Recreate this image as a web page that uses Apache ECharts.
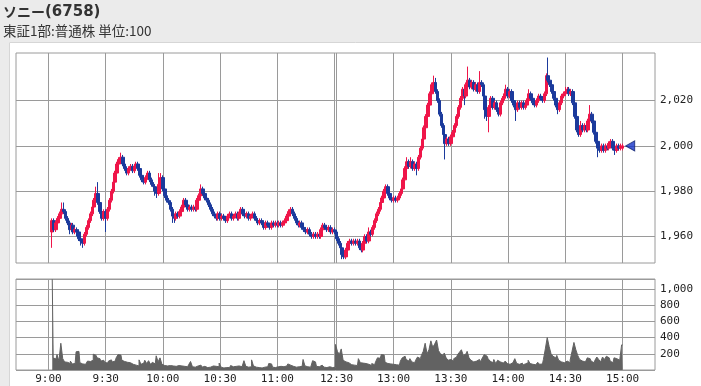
<!DOCTYPE html>
<html><head><meta charset="utf-8">
<script src="https://cdn.jsdelivr.net/npm/echarts@6/dist/echarts.min.js"></script>
<style>html,body{margin:0;padding:0;background:#fff;}#c{width:701px;height:386px;}</style>
</head><body><div id="c"></div>
<script>
// ---- data ----
const titleName = 'ソニー';
const titleCode = '(6758)';
const subTitle = '東証1部:普通株 単位:100';

const gridTimes = ['9:00','9:30','10:00','10:30','11:00','11:30','12:30','13:00','13:30','14:00','14:30','15:00'];
const labelTimes = ['9:00','9:30','10:00','10:30','11:00','12:30','13:00','13:30','14:00','14:30','15:00'];
const priceTicks = [1960, 1980, 2000, 2020];
const volumeTicks = [200, 400, 600, 800, 1000];
const markerTime = '15:04';

const amOpen = [1962,1967,1963,1966,1968,1970,1972,1971,1968,1966,
1963,1965,1962,1963,1962,1959,1958,1957,1961,1964,
1967,1970,1973,1976,1979,1975,1971,1968,1971,1968,
1972,1976,1980,1984,1988,1992,1994,1995,1992,1990,
1988,1990,1991,1989,1991,1992,1990,1987,1985,1984,
1986,1988,1985,1983,1982,1980,1979,1983,1986,1981,
1978,1976,1975,1972,1969,1968,1970,1969,1971,1973,
1976,1974,1972,1973,1972,1973,1972,1976,1978,1981,
1979,1977,1976,1974,1972,1970,1969,1968,1970,1968,
1969,1968,1967,1969,1970,1968,1969,1970,1968,1970,
1972,1970,1969,1970,1968,1969,1970,1968,1967,1966,
1967,1966,1964,1966,1965,1964,1966,1965,1966,1965,
1966,1965,1966,1967,1969,1971,1972,1970,1968,1966,
1965,1966,1964,1963,1962,1963,1961,1960,1961,1960,
1961,1960,1963,1965,1964,1963,1964,1962,1963];
const amClose = [1967,1963,1966,1968,1970,1972,1971,1968,1966,1963,
1965,1962,1963,1962,1959,1958,1957,1961,1964,1967,
1970,1973,1976,1979,1975,1971,1968,1971,1968,1972,
1976,1980,1984,1988,1992,1994,1995,1992,1990,1988,
1990,1991,1989,1991,1992,1990,1987,1985,1984,1986,
1988,1985,1983,1982,1980,1979,1983,1986,1981,1978,
1976,1975,1972,1969,1968,1970,1969,1971,1973,1976,
1974,1972,1973,1972,1973,1972,1976,1978,1981,1979,
1977,1976,1974,1972,1970,1969,1968,1970,1968,1969,
1968,1967,1969,1970,1968,1969,1970,1968,1970,1972,
1970,1969,1970,1968,1969,1970,1968,1967,1966,1967,
1966,1964,1966,1965,1964,1966,1965,1966,1965,1966,
1965,1966,1967,1969,1971,1972,1970,1968,1966,1965,
1966,1964,1963,1962,1963,1961,1960,1961,1960,1961,
1960,1963,1965,1964,1963,1964,1962,1963,1962];
const amLow = [1955,1962,1962,1965,1967,1969,1970,1967,1965,1961,
1962,1961,1961,1960,1958,1956,1955,1956,1960,1963,
1966,1969,1972,1975,1974,1970,1967,1967,1962,1967,
1971,1975,1979,1983,1987,1991,1993,1991,1989,1987,
1987,1989,1988,1988,1990,1989,1986,1984,1983,1983,
1985,1984,1982,1981,1978,1977,1978,1982,1980,1977,
1975,1974,1971,1966,1966,1967,1968,1968,1970,1972,
1973,1971,1971,1971,1971,1971,1971,1975,1977,1978,
1976,1975,1973,1971,1969,1968,1967,1967,1967,1967,
1967,1966,1966,1968,1967,1967,1968,1967,1967,1969,
1969,1968,1968,1967,1967,1968,1967,1966,1965,1965,
1965,1963,1963,1964,1963,1963,1964,1964,1964,1964,
1964,1964,1965,1966,1968,1970,1969,1967,1965,1964,
1964,1963,1962,1961,1961,1960,1959,1959,1959,1959,
1959,1959,1962,1963,1962,1962,1961,1961,1961];
const amHigh = [1968,1968,1967,1969,1971,1975,1975,1972,1969,1967,
1966,1966,1964,1964,1963,1960,1959,1962,1965,1968,
1971,1974,1977,1982,1984,1976,1972,1972,1972,1973,
1977,1981,1985,1989,1993,1995,1997,1996,1993,1991,
1991,1992,1992,1992,1993,1993,1991,1988,1986,1987,
1989,1989,1986,1984,1983,1981,1988,1988,1987,1982,
1979,1977,1976,1973,1970,1971,1971,1972,1974,1977,
1977,1975,1974,1974,1974,1974,1977,1979,1983,1982,
1980,1978,1977,1975,1973,1971,1970,1971,1971,1970,
1970,1969,1970,1971,1971,1970,1971,1971,1971,1973,
1973,1971,1971,1971,1970,1971,1971,1969,1968,1968,
1968,1967,1967,1967,1966,1967,1967,1967,1967,1967,
1967,1967,1968,1970,1972,1973,1973,1971,1969,1967,
1967,1967,1965,1964,1964,1964,1962,1962,1962,1962,
1962,1964,1966,1966,1965,1965,1965,1964,1964];

const pmOpen = [1962,1959,1957,1955,1952,1951,1954,1957,1958,1957,
1958,1957,1958,1955,1954,1957,1960,1958,1962,1961,
1964,1967,1970,1972,1975,1977,1980,1982,1979,1977,
1976,1977,1976,1977,1979,1981,1985,1990,1993,1991,
1993,1990,1992,1990,1995,1999,2003,2008,2013,2018,
2023,2027,2028,2024,2020,2014,2009,2005,2001,2003,
2001,2004,2006,2009,2013,2017,2021,2025,2022,2027,
2029,2026,2028,2025,2027,2024,2028,2027,2022,2016,
2013,2017,2021,2017,2019,2016,2014,2019,2021,2023,
2025,2022,2024,2020,2018,2016,2019,2017,2019,2017,
2018,2020,2023,2021,2019,2018,2020,2022,2021,2020,
2023,2031,2029,2027,2024,2021,2018,2016,2019,2022,
2023,2024,2025,2023,2024,2019,2013,2007,2005,2009,
2007,2009,2007,2011,2014,2011,2006,2002,1999,1998,
2000,1998,2000,1999,2001,2002,1999,1998,2000,1999,
1999];
const pmClose = [1959,1957,1955,1952,1951,1954,1957,1958,1957,1958,
1957,1958,1955,1954,1957,1960,1958,1962,1961,1964,
1967,1970,1972,1975,1977,1980,1982,1979,1977,1976,
1977,1976,1977,1979,1981,1985,1990,1993,1991,1993,
1990,1992,1990,1995,1999,2003,2008,2013,2018,2023,
2027,2028,2024,2020,2014,2009,2005,2001,2003,2001,
2004,2006,2009,2013,2017,2021,2025,2022,2027,2029,
2026,2028,2025,2027,2024,2028,2027,2022,2016,2013,
2017,2021,2017,2019,2016,2014,2019,2021,2023,2025,
2022,2024,2020,2018,2016,2019,2017,2019,2017,2018,
2020,2023,2021,2019,2018,2020,2022,2021,2020,2023,
2031,2029,2027,2024,2021,2018,2016,2019,2022,2023,
2024,2025,2023,2024,2019,2013,2007,2005,2009,2007,
2009,2007,2011,2014,2011,2006,2002,1999,1998,2000,
1998,2000,1999,2001,2002,1999,1998,2000,1999,2000,
2000];
const pmLow = [1958,1956,1954,1950,1950,1950,1953,1956,1956,1956,
1956,1956,1954,1953,1953,1956,1957,1957,1960,1960,
1963,1966,1969,1971,1974,1976,1979,1978,1976,1975,
1975,1975,1975,1976,1978,1980,1984,1989,1990,1990,
1989,1989,1987,1989,1994,1998,2002,2007,2012,2017,
2022,2026,2023,2019,2013,2008,2004,1994,2000,2000,
2000,2003,2005,2008,2012,2016,2020,2018,2021,2026,
2025,2025,2024,2024,2023,2023,2026,2021,2012,2011,
2006,2016,2016,2016,2015,2013,2013,2018,2020,2022,
2021,2021,2019,2017,2011,2015,2016,2016,2016,2016,
2017,2019,2020,2018,2017,2017,2019,2020,2019,2019,
2022,2028,2026,2023,2020,2017,2014,2015,2018,2021,
2022,2023,2022,2022,2018,2012,2006,2004,2004,2006,
2006,2006,2006,2010,2010,2005,2001,1995,1997,1997,
1997,1997,1998,1998,2000,1998,1996,1997,1998,1998,
1998];
const pmHigh = [1963,1960,1958,1956,1953,1955,1958,1959,1959,1959,
1959,1959,1959,1956,1958,1961,1961,1964,1963,1965,
1968,1971,1973,1976,1978,1981,1983,1983,1980,1978,
1978,1978,1978,1980,1982,1986,1991,1995,1994,1995,
1994,1993,1993,1996,2000,2004,2009,2014,2019,2024,
2028,2031,2030,2025,2021,2015,2010,2006,2004,2004,
2005,2007,2010,2014,2018,2022,2026,2026,2028,2035,
2030,2029,2029,2028,2028,2033,2029,2028,2023,2017,
2018,2022,2022,2020,2020,2017,2020,2022,2024,2027,
2026,2025,2025,2021,2019,2020,2020,2020,2020,2019,
2021,2025,2024,2022,2020,2021,2023,2023,2022,2024,
2032,2039,2030,2028,2025,2022,2019,2020,2023,2024,
2026,2026,2026,2025,2025,2020,2014,2008,2011,2010,
2010,2010,2012,2018,2015,2012,2007,2003,2000,2001,
2001,2001,2001,2002,2003,2003,2000,2001,2001,2001,
2001];

const amVolume = [1120,150,135,190,110,330,140,100,95,80,
110,75,80,225,230,90,75,70,85,110,
105,120,195,180,150,140,110,120,95,85,
110,125,100,110,150,190,185,120,105,95,
80,90,70,55,60,50,125,70,85,120,
80,115,70,95,75,175,100,150,70,55,
50,60,55,50,65,45,55,60,50,45,
60,40,65,105,40,35,50,45,60,35,
45,30,40,35,50,30,45,40,85,35,
25,30,45,30,55,40,45,35,50,40,
60,115,45,35,40,125,50,35,30,40,
25,35,30,40,80,75,35,30,40,35,
45,40,55,50,75,60,45,40,35,40,
30,45,130,50,40,35,45,115,100,45,
40,60,55,35,30,40,35,30,35];
const pmVolume = [315,230,190,260,120,100,90,70,65,60,
75,55,140,90,85,80,60,70,55,80,
65,100,150,145,190,185,95,80,75,90,
70,65,80,60,110,150,170,130,110,140,
100,90,120,160,140,180,230,330,200,250,
360,280,320,370,240,200,180,210,150,120,
130,110,140,160,190,220,250,180,200,230,
150,120,100,110,90,130,100,150,190,170,
140,110,90,130,80,120,100,85,95,110,
80,70,90,100,140,80,70,85,60,75,
90,120,80,70,65,80,95,70,75,130,
260,400,290,200,170,150,180,120,100,90,
80,110,90,120,230,340,250,180,130,110,
100,120,150,140,110,90,120,160,130,100,
160,130,170,150,110,90,150,140,120,100,
310];

// ---- build ----
function timeRange(h0, m0, h1, m1) {
  const out = [];
  for (let t = h0 * 60 + m0; t <= h1 * 60 + m1; t++) {
    out.push(Math.floor(t / 60) + ':' + String(t % 60).padStart(2, '0'));
  }
  return out;
}
const axisTimes = timeRange(8, 43, 11, 30).concat(timeRange(12, 30, 15, 17));
const amTimes = timeRange(9, 2, 11, 30);
const pmTimes = timeRange(12, 30, 15, 0);

const candles = [];
const volumes = [];
amTimes.forEach((t, i) => {
  candles.push([t, amOpen[i], amClose[i], amLow[i], amHigh[i]]);
  volumes.push([t, amVolume[i]]);
});
pmTimes.forEach((t, i) => {
  candles.push([t, pmOpen[i], pmClose[i], pmLow[i], pmHigh[i]]);
  volumes.push([t, pmVolume[i]]);
});
const lastPrice = pmClose[pmClose.length - 1];

const RED = '#ef1549';
const BLUE = '#1b3a9c';
const GRIDC = '#9a9a9a';
const VOLC = '#626262';
const fmt = v => String(v).replace(/\B(?=(\d{3})+(?!\d))/g, ',');
const labelFont = {fontFamily: 'DejaVu Sans Mono', fontSize: 11, color: '#222'};

const chart = echarts.init(document.getElementById('c'), null, {renderer: 'canvas'});
chart.setOption({
  animation: false,
  backgroundColor: '#fff',
  graphic: [
    {type: 'rect', shape: {x: 0, y: 0, width: 701, height: 42}, style: {fill: '#ebebeb'}, silent: true},
    {type: 'rect', shape: {x: 0, y: 42, width: 9, height: 344}, style: {fill: '#ebebeb'}, silent: true},
    {type: 'polyline', shape: {points: [[9.5, 386], [9.5, 42.5], [701, 42.5]]}, style: {stroke: '#d6d6d6', lineWidth: 1, fill: null}, silent: true},
    {type: 'text', style: {x: 3, y: 12, text: titleName, font: 'bold 14px "Noto Sans CJK JP"', fill: '#333', verticalAlign: 'middle'}},
    {type: 'text', style: {x: 45, y: 12, text: titleCode, font: 'bold 15px "DejaVu Sans"', fill: '#333', verticalAlign: 'middle'}},
    {type: 'text', style: {x: 3, y: 31, text: subTitle, font: '13.5px "Noto Sans CJK JP"', fill: '#333', verticalAlign: 'middle'}}
  ],
  grid: [
    {left: 16, top: 53, width: 639, height: 210, show: true, borderColor: GRIDC, borderWidth: 1, backgroundColor: 'transparent'},
    {left: 16, top: 279, width: 639, height: 91, show: true, borderColor: GRIDC, borderWidth: 1, backgroundColor: 'transparent'}
  ],
  xAxis: [
    {type: 'category', gridIndex: 0, data: axisTimes, boundaryGap: false,
     axisLine: {show: false}, axisTick: {show: false}, axisLabel: {show: false},
     splitLine: {show: true, interval: (i, v) => gridTimes.includes(v), lineStyle: {color: GRIDC, width: 1}}},
    {type: 'category', gridIndex: 1, data: axisTimes, boundaryGap: false,
     axisLine: {show: false}, axisTick: {show: false},
     axisLabel: Object.assign({show: true, margin: 4, interval: (i, v) => labelTimes.includes(v)}, labelFont),
     splitLine: {show: true, interval: (i, v) => gridTimes.includes(v), lineStyle: {color: GRIDC, width: 1}}}
  ],
  yAxis: [
    {type: 'value', gridIndex: 0, position: 'right', min: 1948.3, max: 2041, splitNumber: 5,
     axisLine: {show: false}, axisTick: {show: false}, splitLine: {show: false},
     axisLabel: Object.assign({margin: 5, align: 'left',
       formatter: v => priceTicks.some(p => Math.abs(p - v) < 1e-6) ? fmt(Math.round(v)) : ''}, labelFont)},
    {type: 'value', gridIndex: 1, position: 'right', min: 0, max: 1123, splitNumber: 5,
     axisLine: {show: false}, axisTick: {show: false},
     splitLine: {show: true, lineStyle: {color: GRIDC, width: 1}},
     axisLabel: Object.assign({margin: 5, align: 'left',
       formatter: v => volumeTicks.some(p => Math.abs(p - v) < 1e-6) ? fmt(Math.round(v)) : ''}, labelFont)}
  ],
  series: [
    {type: 'candlestick', xAxisIndex: 0, yAxisIndex: 0, data: candles,
     encode: {x: 0, y: [1, 2, 3, 4]}, barWidth: 3, barMinWidth: 3,
     itemStyle: {color: RED, color0: BLUE, borderColor: RED, borderColor0: BLUE, borderWidth: 1},
     markLine: {silent: true, symbol: 'none', z: 1, animation: false,
       label: {show: false}, lineStyle: {color: GRIDC, width: 1, type: 'solid'},
       emphasis: {disabled: true},
       data: priceTicks.map(v => ({yAxis: v}))}},
    {type: 'scatter', xAxisIndex: 0, yAxisIndex: 0, data: [[markerTime, lastPrice]],
     symbol: 'triangle', symbolRotate: 90, symbolSize: [10, 9], z: 5,
     itemStyle: {color: '#1533c9', borderColor: '#0c1f6e', borderWidth: 1}},
    {type: 'line', xAxisIndex: 1, yAxisIndex: 1, data: volumes, step: 'middle',
     symbol: 'none', showSymbol: false, silent: true,
     lineStyle: {color: VOLC, width: 1}, areaStyle: {color: VOLC, opacity: 1}}
  ]
});
</script></body></html>
